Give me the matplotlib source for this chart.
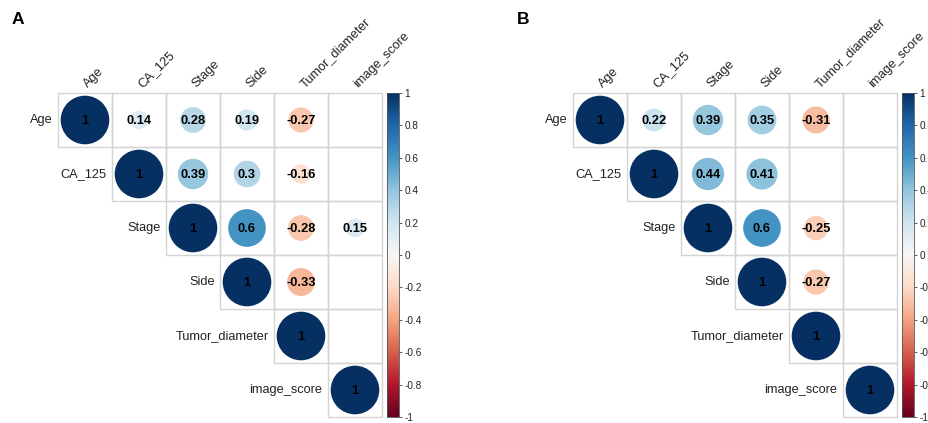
import numpy as np
import matplotlib.pyplot as plt
from matplotlib.patches import Circle, Rectangle

plt.rcParams['font.family'] = ['Liberation Sans', 'DejaVu Sans']

variables = ["Age", "CA_125", "Stage", "Side", "Tumor_diameter", "image_score"]
nan = np.nan

# upper triangle of the correlation matrices, nan = not significant (left blank)
corr_a = [
    [1, 0.14, 0.28, 0.19, -0.27, nan],
    [nan, 1, 0.39, 0.3, -0.16, nan],
    [nan, nan, 1, 0.6, -0.28, 0.15],
    [nan, nan, nan, 1, -0.33, nan],
    [nan, nan, nan, nan, 1, nan],
    [nan, nan, nan, nan, nan, 1],
]
corr_b = [
    [1, 0.22, 0.39, 0.35, -0.31, nan],
    [nan, 1, 0.44, 0.41, nan, nan],
    [nan, nan, 1, 0.6, -0.25, nan],
    [nan, nan, nan, 1, -0.27, nan],
    [nan, nan, nan, nan, 1, nan],
    [nan, nan, nan, nan, nan, 1],
]
cbar_ticks = [1, 0.8, 0.6, 0.4, 0.2, 0, -0.2, -0.4, -0.6, -0.8, -1]

W, H = 929, 423
fig = plt.figure(figsize=(W / 100, H / 100), dpi=100)
cmap = plt.get_cmap("RdBu")


def px_axes(x, y, w, h):
    return fig.add_axes([x / W, 1 - (y + h) / H, w / W, h / H])


def corr_panel(x0, y0, size, mat, letter, letter_x):
    n = len(variables)
    ax = px_axes(x0, y0, size, size)
    ax.set_xlim(0, n)
    ax.set_ylim(n, 0)
    ax.axis("off")
    mat = np.array(mat, dtype=float)
    for i in range(n):
        for j in range(i, n):
            ax.add_patch(Rectangle((j, i), 1, 1, fill=False,
                                   edgecolor="#d4d4d4", lw=1.0, clip_on=False))
            r = mat[i, j]
            if np.isnan(r):
                continue
            ax.add_patch(Circle((j + 0.5, i + 0.5), 0.45 * np.sqrt(abs(r)),
                                color=cmap((r + 1) / 2), lw=0))
            ax.text(j + 0.5, i + 0.52, f"{r:g}", ha="center", va="center",
                    fontsize=9.3, fontweight="bold", color="black")
    for k, name in enumerate(variables):
        ax.text(k + 0.6, -0.05, name, rotation=45, rotation_mode="anchor",
                ha="left", va="bottom", fontsize=9.2, color="#222222",
                clip_on=False)
        ax.text(k - 0.1, k + 0.5, name, ha="right", va="center",
                fontsize=9.2, color="#222222", clip_on=False)

    # colour legend
    cax = px_axes(x0 + size + 5, y0, 12, size)
    cax.imshow(np.linspace(1, -1, 256)[:, None], aspect="auto", cmap=cmap,
               extent=[0, 1, -1, 1], vmin=-1, vmax=1)
    cax.set_xticks([])
    cax.yaxis.tick_right()
    cax.set_yticks(cbar_ticks)
    cax.set_yticklabels([f"{v:g}" for v in cbar_ticks], fontsize=7.2,
                        color="#222222")
    cax.tick_params(axis="y", length=2.5, width=0.6, color="#444444", pad=1.5)
    for s in cax.spines.values():
        s.set_linewidth(0.6)
        s.set_color("#555555")

    fig.text(letter_x / W, 1 - 24 / H, letter, fontsize=12.5,
             fontweight="bold", ha="left", va="baseline")


corr_panel(58, 93, 324, corr_a, "A", 12)
corr_panel(573, 93, 324, corr_b, "B", 517)

fig.savefig("out.png", dpi=100)
